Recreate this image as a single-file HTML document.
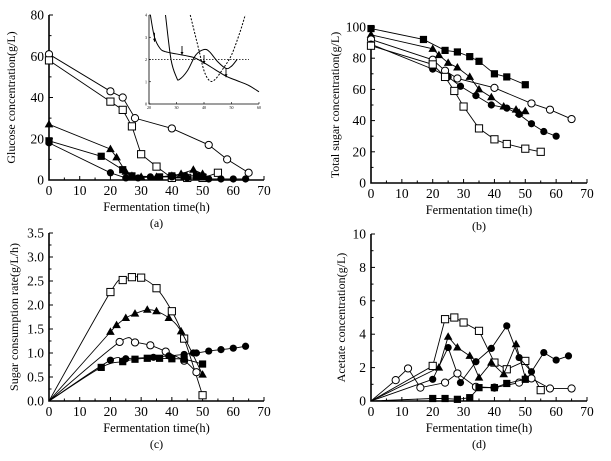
<!DOCTYPE html>
<html><head><meta charset="utf-8"><style>
html,body{margin:0;padding:0;background:#fff;}
svg{display:block;font-family:"Liberation Serif",serif;}
</style></head><body>
<svg id="fig" width="611" height="461" viewBox="0 0 611 461" xmlns="http://www.w3.org/2000/svg"></svg>
<script>
// ---- Panel (a) glucose data ----
const aOpenCircleX=[0,20,24,28,40,52,58,65];
const aOpenCircleY=[61,43,40,30,25,17,10,3.5];
const aOpenSquareX=[0,20,24,27,30,35,40,45,50,55];
const aOpenSquareY=[58,38,34,26,12.5,6.5,1,1,1,3.5];
const aTriX=[0,20,22,25,27,30,35,40,43,47,50];
const aTriY=[27,15,11,4,2,1.5,1.5,2,3,5,3];
const aFillSquareX=[0,17,24,27,36,40,44,48,50];
const aFillSquareY=[19,11.5,5,2,1.5,2,2,2,1.5];
const aFillCircleX=[0,20,25,29,33,40,45,52,56,60,64];
const aFillCircleY=[18,3.5,1,1,1.5,1.5,1,0.5,0.5,0.5,0.5];
// inset curves
const inC1X=[20.5,22,24,26,30,36,40,44,48,52,56,60];
const inC1Y=[4,3,2.5,2.35,2.25,2.1,1.85,1.55,1.25,1.05,0.85,0.55];
const inC2X=[26,28,30,31,34,37,40,42,45,48,50,52];
const inC2Y=[4,2,1.2,1.1,1.5,2.2,2.45,2.35,1.9,1.6,1.7,2];
const inC3X=[35,38,40,42,44,47,50,53,55];
const inC3Y=[4,2.5,1.5,1.05,1.1,1.6,2.2,3.2,4];
const inArrowX=[22,32,40,48];
const inArrowY=[2.8,2.2,1.8,1.2];
// ---- Panel (b) total sugar ----
const bFillSquareX=[0,17,24,28,32,35,40,44,50];
const bFillSquareY=[99,92,85,84,81,78,70,68,63];
const bTriX=[0,20,22,25,28,32,35,39,43,47,48,50];
const bTriY=[95,86,82,77,74,68,60,55,49,47,45,46];
const bOpenCircleX=[0,20,24,28,40,52,58,65];
const bOpenCircleY=[92,79,72,67,61,51,47,41];
const bFillCircleX=[0,20,25,29,34,39,44,48,52,56,60];
const bFillCircleY=[89,73,68,62,56,50,48,44,38,33,30];
const bOpenSquareX=[0,20,24,27,30,35,40,44,50,55];
const bOpenSquareY=[88,76,68,59,49,35,28,25,22,20];
// ---- Panel (c) consumption rate ----
const cOpenSquareX=[0,20,24,27,30,35,40,44,50];
const cOpenSquareY=[0,2.27,2.52,2.58,2.57,2.35,1.87,1.3,0.12];
const cTriX=[0,20,22,25,28,32,35,39,43,50];
const cTriY=[0,1.44,1.58,1.73,1.82,1.9,1.87,1.73,1.45,0.55];
const cOpenCircleX=[0,23,28,33,38,44,48];
const cOpenCircleY=[0,1.23,1.22,1.16,1.03,0.84,0.6];
const cFillCircleX=[0,20,24,25,34,39,44,47,48,52,56,60,64];
const cFillCircleY=[0,0.85,0.83,0.88,0.91,0.94,0.97,1.0,1.0,1.04,1.07,1.1,1.14];
const cFillSquareX=[0,17,24,28,32,36,40,44,50];
const cFillSquareY=[0,0.7,0.82,0.87,0.89,0.89,0.88,0.87,0.77];
// ---- Panel (d) acetate ----
const dOpenSquareX=[0,20,24,27,30,35,40,44,50,55];
const dOpenSquareY=[0,2.1,4.9,5,4.7,4.2,2.3,1.9,2.4,0.65];
const dTriX=[0,22,25,28,32,35,39,43,47,50];
const dTriY=[0,2,3.85,3.2,2.7,1.4,2.3,1.6,3.4,1.4];
const dFillCircleX=[0,20,25,29,34,39,44,48,52,56,60,64];
const dFillCircleY=[0,1.3,3.2,1.1,2.35,3.15,4.5,2.6,1.75,2.9,2.45,2.7];
const dOpenCircleX=[0,8,12,16,24,28,34,40,48,52,58,65];
const dOpenCircleY=[0,1.25,1.95,0.8,1.1,1.65,0.85,0.8,1.1,1.35,0.75,0.75];
const dFillSquareX=[0,20,24,28,32,35,40,44,50];
const dFillSquareY=[0,0.15,0.15,0.1,0.2,0.8,0.8,1.05,1.3];
const xTicks=[0,10,20,30,40,50,60,70];

const NS="http://www.w3.org/2000/svg";
const svg=document.getElementById('fig');
function el(tag,attrs,parent){const e=document.createElementNS(NS,tag);for(const k in attrs)e.setAttribute(k,attrs[k]);(parent||svg).appendChild(e);return e;}
function txt(s,x,y,size,anchor,parent,rot){const t=el('text',{x:x,y:y,'font-size':size,'text-anchor':anchor||'middle',fill:'#000'},parent);if(rot)t.setAttribute('transform','rotate(-90 '+x+' '+y+')');t.textContent=s;return t;}
function smoothPath(p){
  let d='M'+p[0][0]+','+p[0][1];
  for(let i=0;i<p.length-1;i++){
    const p0=p[i-1]||p[i],p1=p[i],p2=p[i+1],p3=p[i+2]||p2;
    const c1=[p1[0]+(p2[0]-p0[0])/6,p1[1]+(p2[1]-p0[1])/6];
    const c2=[p2[0]-(p3[0]-p1[0])/6,p2[1]-(p3[1]-p1[1])/6];
    d+=` C${c1[0]},${c1[1]} ${c2[0]},${c2[1]} ${p2[0]},${p2[1]}`;
  }
  return d;
}

function panel(cfg){
  const g=el('g',{});
  
  
  const sx=v=>cfg.x0+(v-0)/70*(cfg.x1-cfg.x0);
  const sy=v=>cfg.y0-(v/cfg.ymax)*(cfg.y0-cfg.y1);
  const ax=el('path',{d:`M${cfg.x0},${cfg.y1}V${cfg.y0}H${cfg.x1}`,stroke:'#000','stroke-width':1.6,fill:'none'},g);
  
  
  for(let v=0;v<=70;v+=5){const x=sx(v);el('line',{x1:x,x2:x,y1:cfg.y0,y2:cfg.y0-(v%10==0?4:2.5),stroke:'#000','stroke-width':1},g);}
  xTicks.forEach(v=>{const t=txt(String(v),sx(v),cfg.y0+15,13.5,'middle',g);});
  for(let i=0;i<=cfg.yticks.length-1;i++){const v=cfg.yticks[i];const y=sy(v);el('line',{x1:cfg.x0,x2:cfg.x0+4,y1:y,y2:y,stroke:'#000','stroke-width':1},g);
    if(i<cfg.yticks.length-1){const ym=sy((v+cfg.yticks[i+1])/2);el('line',{x1:cfg.x0,x2:cfg.x0+2.5,y1:ym,y2:ym,stroke:'#000','stroke-width':1},g);}
    const t=txt(cfg.ylab[i],cfg.x0-5,y+4.5,13.5,'end',g);}
  const xt=txt('Fermentation time(h)',(cfg.x0+cfg.x1)/2,cfg.y0+31,12.5,'middle',g);
  
  const yt=txt(cfg.ytitle,cfg.ytx,(cfg.y0+cfg.y1)/2,12,'middle',g,true);
  
  const pl=txt(cfg.label,(cfg.x0+cfg.x1)/2,cfg.y0+47,12,'middle',g);
  
  cfg.series.forEach(s=>{
    const sg=el('g',{},g);
    
    
    const pts=s.X.map((x,i)=>[sx(x),sy(s.Y[i])]);
    if(cfg.smooth) el('path',{d:smoothPath(pts),fill:'none',stroke:'#000','stroke-width':0.9},sg);
    else el('polyline',{points:pts.map(p=>p.join(',')).join(' '),fill:'none',stroke:'#000','stroke-width':0.9},sg);
    pts.forEach((p,i)=>{ if(s.skip0&&i==0)return; marker(s.m,p[0],p[1],sg);});
  });
  return {g,sx,sy};
}
function marker(m,x,y,g){
  let e;const r=3.6;
  if(m=='oc')e=el('circle',{cx:x,cy:y,r:r,fill:'#fff',stroke:'#000','stroke-width':1},g);
  else if(m=='fc')e=el('circle',{cx:x,cy:y,r:r,fill:'#000'},g);
  else if(m=='os')e=el('rect',{x:x-r,y:y-r,width:2*r,height:2*r,fill:'#fff',stroke:'#000','stroke-width':1},g);
  else if(m=='fs')e=el('rect',{x:x-r,y:y-r,width:2*r,height:2*r,fill:'#000'},g);
  else e=el('polygon',{points:`${x},${y-4.5} ${x-4.3},${y+3} ${x+4.3},${y+3}`,fill:'#000'},g);
  
  
}

panel({name:'panel-a-glucose',x0:49,x1:264,y0:180,y1:15,ymax:80,yticks:[0,20,40,60,80],ylab:['0','20','40','60','80'],
 ytitle:'Glucose concentration(g/L)',ytx:15,label:'(a)',series:[
 {m:'oc',X:aOpenCircleX,Y:aOpenCircleY},{m:'os',X:aOpenSquareX,Y:aOpenSquareY},{m:'tr',X:aTriX,Y:aTriY},
 {m:'fs',X:aFillSquareX,Y:aFillSquareY},{m:'fc',X:aFillCircleX,Y:aFillCircleY}]});
panel({name:'panel-b-total-sugar',x0:371,x1:587,y0:183,y1:27,ymax:100,yticks:[0,20,40,60,80,100],ylab:['0','20','40','60','80','100'],
 ytitle:'Total sugar concentration(g/L)',ytx:339,label:'(b)',series:[
 {m:'fs',X:bFillSquareX,Y:bFillSquareY},{m:'tr',X:bTriX,Y:bTriY},{m:'oc',X:bOpenCircleX,Y:bOpenCircleY},
 {m:'fc',X:bFillCircleX,Y:bFillCircleY},{m:'os',X:bOpenSquareX,Y:bOpenSquareY}]});
panel({name:'panel-c-consumption-rate',smooth:true,x0:49,x1:264,y0:401,y1:233,ymax:3.5,yticks:[0,0.5,1,1.5,2,2.5,3,3.5],ylab:['0.0','0.5','1.0','1.5','2.0','2.5','3.0','3.5'],
 ytitle:'Sugar consumption rate(g/L/h)',ytx:18,label:'(c)',series:[
 {m:'os',X:cOpenSquareX,Y:cOpenSquareY,skip0:1},{m:'tr',X:cTriX,Y:cTriY,skip0:1},{m:'oc',X:cOpenCircleX,Y:cOpenCircleY,skip0:1},
 {m:'fc',X:cFillCircleX,Y:cFillCircleY,skip0:1},{m:'fs',X:cFillSquareX,Y:cFillSquareY,skip0:1}]});
panel({name:'panel-d-acetate',x0:371,x1:587,y0:401,y1:234,ymax:10,yticks:[0,2,4,6,8,10],ylab:['0','2','4','6','8','10'],
 ytitle:'Acetate concentration(g/L)',ytx:345,label:'(d)',series:[
 {m:'os',X:dOpenSquareX,Y:dOpenSquareY,skip0:1},{m:'tr',X:dTriX,Y:dTriY,skip0:1},{m:'fc',X:dFillCircleX,Y:dFillCircleY,skip0:1},
 {m:'oc',X:dOpenCircleX,Y:dOpenCircleY,skip0:1},{m:'fs',X:dFillSquareX,Y:dFillSquareY,skip0:1}]});

// inset
(function(){
  const g=el('g',{});
  
  
  const X0=149,X1=259,Y0=104,Y1=15;
  const ix=v=>X0+(v-20)/40*(X1-X0), iy=v=>Y0-v/4*(Y0-Y1);
  el('path',{d:`M${X0},${Y1}V${Y0}H${X1}`,stroke:'#000','stroke-width':0.8,fill:'none'},g);
  [0,1,2,3,4].forEach(v=>{el('line',{x1:X0,x2:X0+2,y1:iy(v),y2:iy(v),stroke:'#000','stroke-width':0.6},g);txt(String(v),X0-2,iy(v)+1.5,4,'end',g);});
  [20,30,40,50,60].forEach(v=>{el('line',{x1:ix(v),x2:ix(v),y1:Y0,y2:Y0-2,stroke:'#000','stroke-width':0.6},g);txt(String(v),ix(v),Y0+5,4,'middle',g);});
  el('line',{x1:X0,x2:X1-10,y1:iy(2),y2:iy(2),stroke:'#000','stroke-width':0.8,'stroke-dasharray':'1.5,1.5'},g);
  const pts=(X,Y)=>X.map((x,i)=>[ix(x),iy(Y[i])]);
  el('path',{d:smoothPath(pts(inC1X,inC1Y)),fill:'none',stroke:'#000','stroke-width':1},g);
  el('path',{d:smoothPath(pts(inC2X,inC2Y)),fill:'none',stroke:'#000','stroke-width':1},g);
  el('path',{d:smoothPath(pts(inC3X,inC3Y)),fill:'none',stroke:'#000','stroke-width':1,'stroke-dasharray':'2,1.5'},g);
  inArrowX.forEach((x,i)=>{const px=ix(x),py=iy(inArrowY[i]);
    el('line',{x1:px,x2:px,y1:py-9,y2:py,stroke:'#000','stroke-width':0.9},g);
    el('polygon',{points:`${px-1.5},${py-3} ${px+1.5},${py-3} ${px},${py}`,fill:'#000'},g);});
})();
</script>
</body></html>
